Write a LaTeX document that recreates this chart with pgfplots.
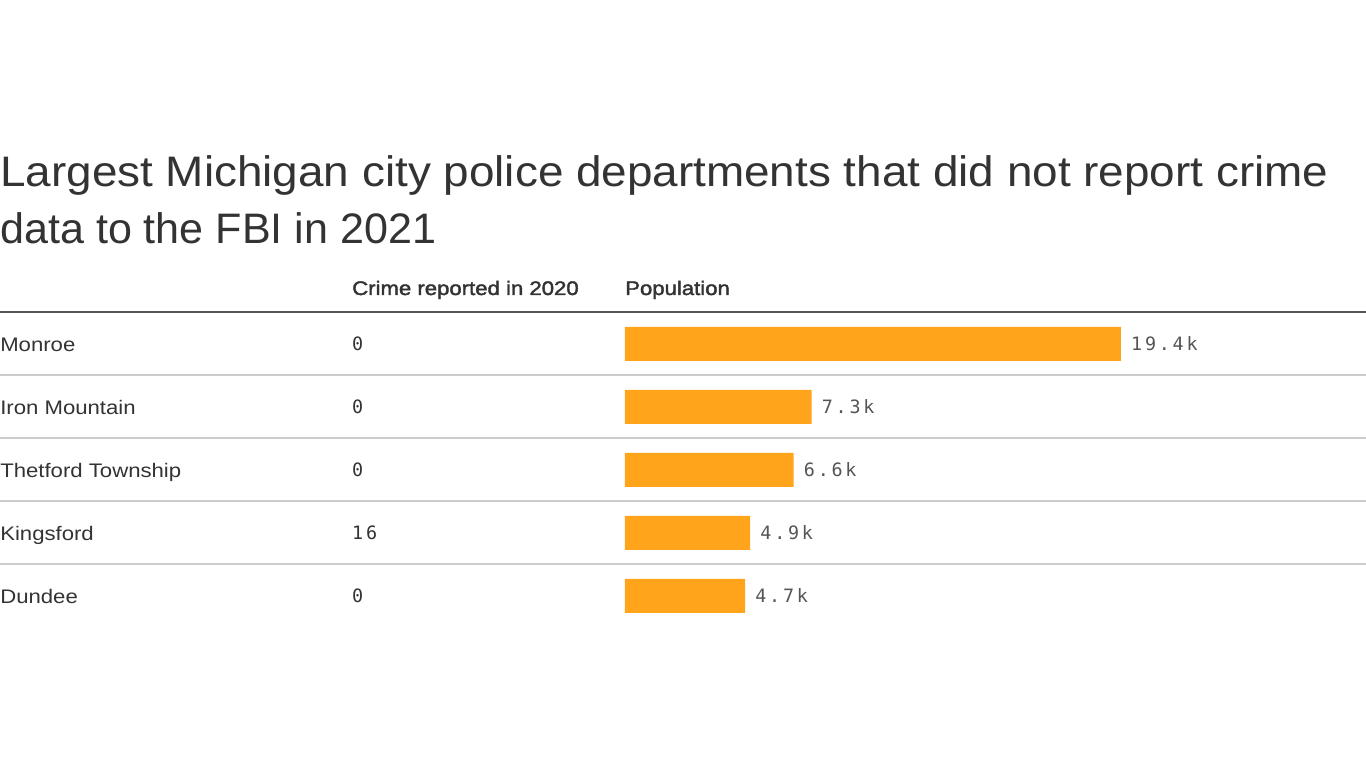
\documentclass[border=0pt]{standalone}
\usepackage{fontspec}
\setmainfont{Liberation Sans}
\newfontfamily\titlefont[FakeStretch=1.075]{Liberation Sans}
\newfontfamily\titlefontb[FakeStretch=1.01]{Liberation Sans}
\newfontfamily\bodyfont[FakeStretch=1.13]{Liberation Sans}
\newfontfamily\headfont[FakeStretch=1.13,FakeBold=2]{Liberation Sans}
\newfontfamily\monofont[LetterSpace=15]{DejaVu Sans Mono}
\usepackage{pgfplots}
\usepackage{pgfplotstable}
\pgfplotsset{compat=1.18}
\definecolor{barc}{HTML}{FFA41B}
\definecolor{txt}{HTML}{333333}
\definecolor{gridc}{HTML}{CCCCCC}
\definecolor{lab}{HTML}{555555}

\pgfplotstableread{
row city pop poplab crime
0 Monroe 19.4 19.4k 0
1 {Iron Mountain} 7.3 7.3k 0
2 {Thetford Township} 6.6 6.6k 0
3 Kingsford 4.9 4.9k 16
4 Dundee 4.7 4.7k 0
}\data

\begin{document}
\begin{tikzpicture}
\begin{scope}[x=0.75pt,y=-0.75pt]
\fill[white,use as bounding box] (0,0) rectangle (1366,768);
\node[anchor=base west,inner sep=0,text=txt,font=\fontsize{32}{38}\titlefont] at (0,187) {Largest Michigan city police departments that did not report crime};
\node[anchor=base west,inner sep=0,text=txt,font=\fontsize{32}{38}\titlefontb] at (0,244) {data to the FBI in 2021};
\node[anchor=base west,inner sep=0,text=txt,font=\fontsize{14.7}{17}\headfont] at (352,295) {Crime reported in 2020};
\node[anchor=base west,inner sep=0,text=txt,font=\fontsize{14.7}{17}\headfont] at (625,295) {Population};
\draw[draw=gridc,line width=1.1pt] (0,375) -- (1366,375);
\draw[draw=gridc,line width=1.1pt] (0,438) -- (1366,438);
\draw[draw=gridc,line width=1.1pt] (0,501) -- (1366,501);
\draw[draw=gridc,line width=1.1pt] (0,564) -- (1366,564);
\draw[draw=lab,line width=1.1pt] (0,312) -- (1366,312);
\end{scope}
\begin{axis}[
  at={(468.75pt,-234.375pt)}, anchor=north west,
  scale only axis, width=555.75pt, height=236.25pt,
  xmin=0, xmax=28.98, ymin=-0.5, ymax=4.5, y dir=reverse,
  axis line style={draw=none},
  xtick=\empty, ytick={0,1,2,3,4},
  yticklabels from table={\data}{city},
  major tick length=0pt,
  yticklabel style={anchor=base west, inner sep=0pt, xshift=-468.75pt, yshift=-6pt,
    text=txt, font=\fontsize{14.7}{17}\bodyfont},
  clip=false,
]
\addplot[xbar, bar width=25.5pt, fill=barc, draw=none,
  nodes near coords, point meta=explicit symbolic,
  nodes near coords style={anchor=west, inner sep=0pt, xshift=7.5pt, yshift=0pt,
    text=lab, font=\fontsize{13.8}{16}\monofont}]
  table[x=pop, y=row, meta=poplab] {\data};
\addplot[only marks, mark=*, mark size=0pt, draw opacity=0, fill opacity=0,
  nodes near coords, point meta=explicit symbolic,
  nodes near coords style={anchor=west, inner sep=0pt, opacity=1, text opacity=1,
    text=txt, font=\fontsize{13.8}{16}\monofont}]
  table[x expr=-10.677, y=row, meta=crime] {\data};
\end{axis}
\end{tikzpicture}
\end{document}
